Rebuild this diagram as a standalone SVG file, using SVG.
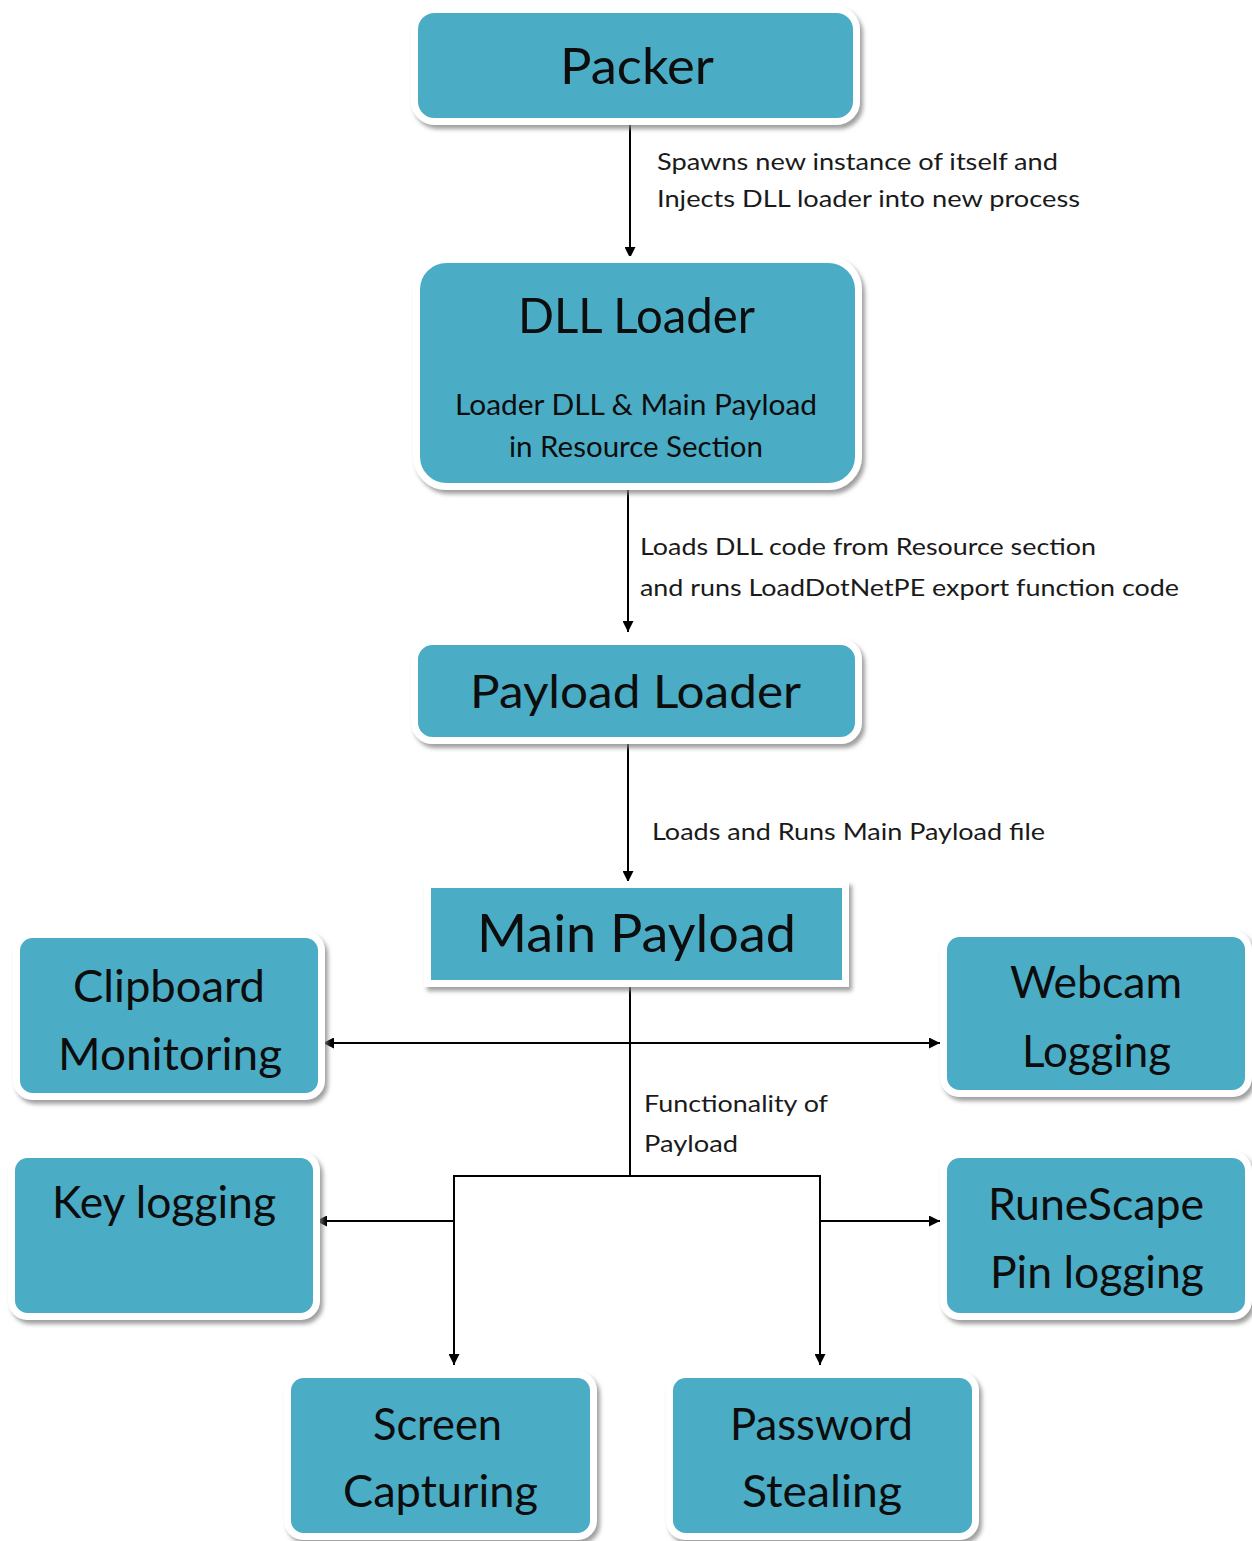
<svg xmlns="http://www.w3.org/2000/svg" width="1252" height="1541" viewBox="0 0 1252 1541">
<style>
.box{fill:#4BACC6;stroke:#FFFFFF;stroke-width:7;filter:url(#sh);}
.t{font-family:Lato,"Liberation Sans",sans-serif;fill:#0d0d0d;text-anchor:middle;}
.lbl{font-family:Lato,"Liberation Sans",sans-serif;fill:#1a1a1a;font-size:24px;}
.c{stroke:#000;stroke-width:2;fill:none;}
.a{marker-end:url(#ah);}
</style>
<defs>
<filter id="sh" x="-10%" y="-10%" width="125%" height="130%">
<feDropShadow dx="3" dy="4" stdDeviation="2" flood-color="#7f7f7f" flood-opacity="0.75"/>
</filter>
<marker id="ah" viewBox="0 0 10 10" refX="10" refY="5" markerWidth="11" markerHeight="11" markerUnits="userSpaceOnUse" orient="auto-start-reverse">
<path d="M0,0 L10,5 L0,10 z" fill="#000"/>
</marker>
</defs>
<rect width="1252" height="1541" fill="#FFFFFF"/>

<g id="connectors">
<line class="c a" x1="630" y1="124" x2="630" y2="258"/>
<line class="c a" x1="628" y1="489" x2="628" y2="632"/>
<line class="c a" x1="628" y1="743" x2="628" y2="882"/>
<line class="c" x1="630" y1="987" x2="630" y2="1176"/>
<line class="c a" x1="323" y1="1043" x2="940" y2="1043" style="marker-start:url(#ah)"/>
<polyline class="c" points="454,1365 454,1176 820,1176 820,1365"/>
<line class="c a" x1="454" y1="1176" x2="454" y2="1365"/>
<line class="c a" x1="820" y1="1176" x2="820" y2="1365"/>
<line class="c a" x1="454" y1="1221" x2="316" y2="1221"/>
<line class="c a" x1="820" y1="1221" x2="940" y2="1221"/>
</g>

<g id="edge-labels">
<text class="lbl" x="657" y="170" textLength="401" lengthAdjust="spacingAndGlyphs">Spawns new instance of itself and</text>
<text class="lbl" x="657" y="207" textLength="423" lengthAdjust="spacingAndGlyphs">Injects DLL loader into new process</text>
<text class="lbl" x="640" y="555" textLength="456" lengthAdjust="spacingAndGlyphs">Loads DLL code from Resource section</text>
<text class="lbl" x="640" y="596" textLength="539" lengthAdjust="spacingAndGlyphs">and runs LoadDotNetPE export function code</text>
<text class="lbl" x="652" y="840" textLength="393" lengthAdjust="spacingAndGlyphs">Loads and Runs Main Payload file</text>
<text class="lbl" x="644" y="1112" textLength="184" lengthAdjust="spacingAndGlyphs">Functionality of</text>
<text class="lbl" x="644" y="1152" textLength="94" lengthAdjust="spacingAndGlyphs">Payload</text>
</g>

<g id="packer">
<rect class="box" x="414.5" y="9.5" width="442" height="112" rx="20"/>
<text class="t" x="637" y="84" font-size="51" textLength="154" lengthAdjust="spacingAndGlyphs">Packer</text>
</g>

<g id="dll-loader">
<rect class="box" x="416.5" y="259.5" width="442" height="227" rx="30"/>
<text class="t" x="636.5" y="333" font-size="49" textLength="237" lengthAdjust="spacingAndGlyphs">DLL Loader</text>
<text class="t" x="636" y="415" font-size="29" textLength="362" lengthAdjust="spacingAndGlyphs">Loader DLL &amp; Main Payload</text>
<text class="t" x="636" y="457" font-size="29" textLength="254" lengthAdjust="spacingAndGlyphs">in Resource Section</text>
</g>

<g id="payload-loader">
<rect class="box" x="414.5" y="641.5" width="444" height="99" rx="18"/>
<text class="t" x="635.5" y="708" font-size="46" textLength="331" lengthAdjust="spacingAndGlyphs">Payload Loader</text>
</g>

<g id="main-payload">
<rect class="box" x="427.5" y="884.5" width="418" height="99"/>
<text class="t" x="636.5" y="952" font-size="52" textLength="319" lengthAdjust="spacingAndGlyphs">Main Payload</text>
</g>

<g id="clipboard-monitoring">
<rect class="box" x="16.5" y="934.5" width="305" height="162" rx="16"/>
<text class="t" x="169" y="1002" font-size="44" textLength="192" lengthAdjust="spacingAndGlyphs">Clipboard</text>
<text class="t" x="170" y="1070" font-size="44" textLength="224" lengthAdjust="spacingAndGlyphs">Monitoring</text>
</g>

<g id="webcam-logging">
<rect class="box" x="943.5" y="933.5" width="305" height="160" rx="16"/>
<text class="t" x="1096" y="998" font-size="44" textLength="172" lengthAdjust="spacingAndGlyphs">Webcam</text>
<text class="t" x="1096.5" y="1067" font-size="44" textLength="149" lengthAdjust="spacingAndGlyphs">Logging</text>
</g>

<g id="key-logging">
<rect class="box" x="11.5" y="1154.5" width="305" height="162" rx="16"/>
<text class="t" x="164" y="1218" font-size="44" textLength="224" lengthAdjust="spacingAndGlyphs">Key logging</text>
</g>

<g id="runescape-pin-logging">
<rect class="box" x="943.5" y="1154.5" width="305" height="162" rx="16"/>
<text class="t" x="1096" y="1220" font-size="44" textLength="216" lengthAdjust="spacingAndGlyphs">RuneScape</text>
<text class="t" x="1097" y="1288" font-size="44" textLength="214" lengthAdjust="spacingAndGlyphs">Pin logging</text>
</g>

<g id="screen-capturing">
<rect class="box" x="287.5" y="1374.5" width="306" height="162" rx="16"/>
<text class="t" x="437.5" y="1440" font-size="44" textLength="129" lengthAdjust="spacingAndGlyphs">Screen</text>
<text class="t" x="440.5" y="1507" font-size="44" textLength="195" lengthAdjust="spacingAndGlyphs">Capturing</text>
</g>

<g id="password-stealing">
<rect class="box" x="669.5" y="1374.5" width="306" height="162" rx="16"/>
<text class="t" x="821.5" y="1440" font-size="44" textLength="183" lengthAdjust="spacingAndGlyphs">Password</text>
<text class="t" x="822" y="1507" font-size="44" textLength="160" lengthAdjust="spacingAndGlyphs">Stealing</text>
</g>
</svg>
